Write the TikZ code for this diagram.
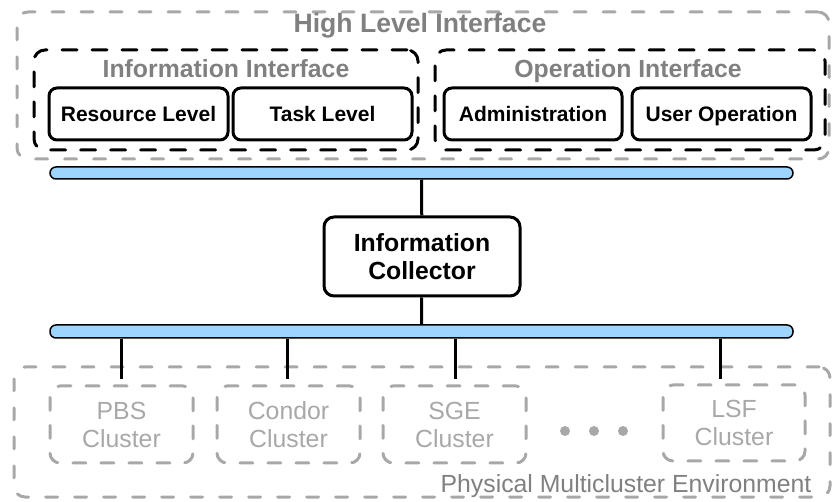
\documentclass[tikz,border=0pt]{standalone}
\usepackage{fontspec}
\setmainfont{Liberation Sans}
\usetikzlibrary{arrows}
\usetikzlibrary{shapes}
\definecolor{TitleGray}{HTML}{808080}
\definecolor{LightGray}{HTML}{A8A8A8}
\definecolor{BusBlue}{HTML}{9DD5FF}

\begin{document}
\begin{tikzpicture}[x = 1pt, y = -1pt]
\tikzstyle{GroupStyle}=[shape = rectangle,
                        draw = LightGray,
                        line width = 3pt,
                        line cap = round,
                        dash pattern = on 12pt off 17pt,
                        rounded corners = 11pt]
\tikzstyle{PartStyle}=[shape = rectangle,
                       draw = black,
                       line width = 3pt,
                       line cap = round,
                       dash pattern = on 15pt off 15pt,
                       rounded corners = 11pt]
\tikzstyle{BoxStyle}=[shape = rectangle,
                      draw = black,
                      line width = 3pt,
                      rounded corners = 8pt,
                      inner sep = 0pt,
                      font = \fontsize{21}{24}\selectfont\bfseries,
                      text height = 15pt,
                      text depth = 0pt]
\tikzstyle{ClusterStyle}=[shape = rectangle,
                          draw = LightGray,
                          line width = 3pt,
                          line cap = round,
                          dash pattern = on 13pt off 15pt,
                          rounded corners = 10pt,
                          inner sep = 0pt,
                          align = center,
                          text = LightGray,
                          font = \fontsize{24.8}{28}\selectfont]
\tikzstyle{BusStyle}=[shape = rectangle,
                      draw = black,
                      fill = BusBlue,
                      line width = 1.5pt,
                      rounded corners = 6pt,
                      inner sep = 0pt]
\tikzstyle{TitleStyle}=[anchor = base,
                        inner sep = 0pt,
                        text = TitleGray,
                        font = \fontsize{24.8}{28}\selectfont\bfseries]
\tikzstyle{LinkStyle}=[draw = black,
                       line width = 3pt]
\useasboundingbox (0,0) rectangle (833,502);
\node[GroupStyle, minimum width = 812pt, minimum height = 147pt] (h0) at (423, 85.5) {};
\node[TitleStyle, font = \fontsize{26.6}{30}\selectfont\bfseries] (t0) at (420, 33) {High Level Interface};
\node[PartStyle, minimum width = 384pt, minimum height = 100pt] (p0) at (226, 100) {};
\node[PartStyle, minimum width = 390pt, minimum height = 100pt] (p1) at (630, 100) {};
\node[TitleStyle] (t1) at (226, 78) {Information Interface};
\node[TitleStyle] (t2) at (628, 78) {Operation Interface};
\node[BoxStyle, minimum width = 179pt, minimum height = 52pt] (v0) at (138.5, 114) {Resource Level};
\node[BoxStyle, minimum width = 179pt, minimum height = 52pt] (v1) at (322.5, 114) {Task Level};
\node[BoxStyle, minimum width = 178pt, minimum height = 52pt] (v2) at (533, 114) {Administration};
\node[BoxStyle, minimum width = 179pt, minimum height = 52pt] (v3) at (721.5, 114) {User Operation};
\node[BusStyle, minimum width = 743pt, minimum height = 12pt] (b0) at (421.5, 173) {};
\node[BoxStyle, minimum width = 196pt, minimum height = 79pt, rounded corners = 10pt,
      align = center, text height = , text depth = ,
      font = \fontsize{24.8}{28}\selectfont\bfseries] (v4) at (422, 256.5) {Information\\Collector};
\node[BusStyle, minimum width = 743pt, minimum height = 13pt] (b1) at (421.5, 331.5) {};
\node[GroupStyle, minimum width = 816pt, minimum height = 130pt] (h1) at (422, 432) {};
\node[ClusterStyle, minimum width = 143pt, minimum height = 77pt] (c0) at (121.5, 424.5) {PBS\\Cluster};
\node[ClusterStyle, minimum width = 143pt, minimum height = 77pt] (c1) at (288.5, 424.5) {Condor\\Cluster};
\node[ClusterStyle, minimum width = 143pt, minimum height = 77pt] (c2) at (454.5, 424.5) {SGE\\Cluster};
\node[ClusterStyle, minimum width = 142pt, minimum height = 76pt] (c3) at (734, 423) {LSF\\Cluster};
\node[TitleStyle, font = \fontsize{24.8}{28}\selectfont] (t3) at (626, 493) {Physical Multicluster Environment};
\coordinate (d0) at (121, 379);
\coordinate (d1) at (287, 379);
\coordinate (d2) at (455, 379);
\coordinate (d3) at (720, 379);
\fill[LightGray] (565, 431) circle (5pt);
\fill[LightGray] (594, 431) circle (5pt);
\fill[LightGray] (623, 431) circle (5pt);
\draw[LinkStyle] (b0) -- (v4);
\draw[LinkStyle] (v4) -- (b1);
\draw[LinkStyle] (d0 |- b1.south) -- (d0);
\draw[LinkStyle] (d1 |- b1.south) -- (d1);
\draw[LinkStyle] (d2 |- b1.south) -- (d2);
\draw[LinkStyle] (d3 |- b1.south) -- (d3);
\end{tikzpicture}
\end{document}
